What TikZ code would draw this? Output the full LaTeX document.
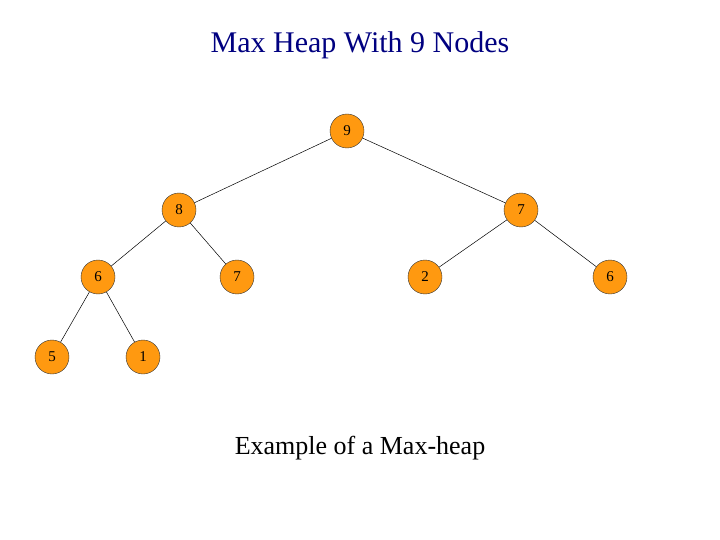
\documentclass[tikz,border=0pt]{standalone}
\usepackage{fontspec}
\setmainfont{Liberation Serif}
\begin{document}
\begin{tikzpicture}[x=1pt,y=-1pt,
  hn/.style={circle,draw=black!80,fill={rgb,255:red,255;green,153;blue,16},minimum size=34pt,inner sep=0pt,font=\fontsize{15}{17}\selectfont},
  ed/.style={black,line width=0.5pt}]
\useasboundingbox (0,0) rectangle (720,540);
\node[text={rgb,255:red,0;green,0;blue,128},font=\fontsize{30}{34}\selectfont] (t) at (360,45) {Max Heap With 9 Nodes};
\node[hn] (a) at (347,131) {9};
\node[hn] (b) at (179,210) {8};
\node[hn] (c) at (521,210) {7};
\node[hn] (d) at (98,277) {6};
\node[hn] (e) at (237,277) {7};
\node[hn] (f) at (425,277) {2};
\node[hn] (g) at (610,277) {6};
\node[hn] (h) at (52,357) {5};
\node[hn] (i) at (143,357) {1};
\draw[ed] (a)--(b); \draw[ed] (a)--(c);
\draw[ed] (b)--(d); \draw[ed] (b)--(e);
\draw[ed] (c)--(f); \draw[ed] (c)--(g);
\draw[ed] (d)--(h); \draw[ed] (d)--(i);
\node[font=\fontsize{26}{30}\selectfont] (cap) at (360,448) {Example of a Max-heap};
\end{tikzpicture}
\end{document}
